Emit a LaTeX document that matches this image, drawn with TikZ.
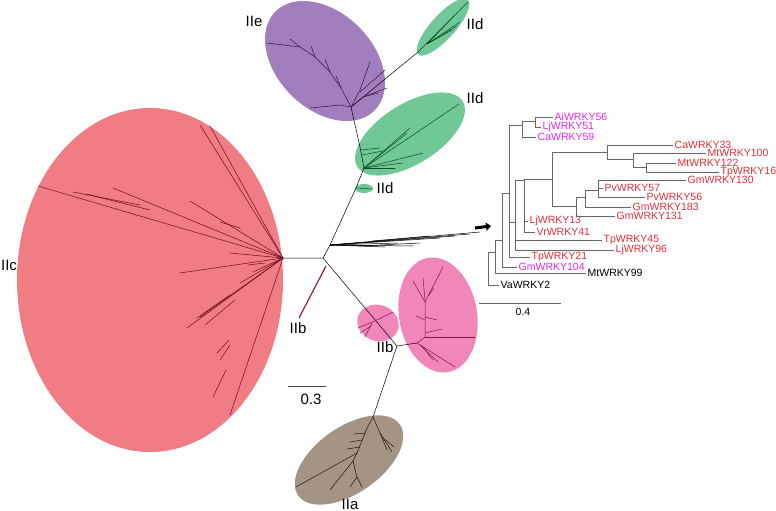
\documentclass[tikz,border=0pt]{standalone}
\usepackage{fontspec}
\setmainfont{Liberation Sans}
\usetikzlibrary{arrows.meta}
\definecolor{IIaFill}{RGB}{163,148,132}
\definecolor{IIbFill}{RGB}{241,134,185}
\definecolor{IIcFill}{RGB}{240,124,132}
\definecolor{IIdFill}{RGB}{111,200,150}
\definecolor{IIeFill}{RGB}{161,126,190}
\definecolor{wred}{RGB}{228,46,54}
\definecolor{wmag}{RGB}{228,40,228}
\definecolor{IIaLine}{RGB}{30,20,20}
\definecolor{IIbLine}{RGB}{140,14,78}
\definecolor{IIcLine}{RGB}{110,10,30}
\definecolor{IIdLine}{RGB}{11,74,40}
\definecolor{IIeLine}{RGB}{59,16,56}

\begin{document}
\begin{tikzpicture}[x=1pt,y=-1pt,
    leaf/.style={anchor=west,inner sep=1.5pt,font=\fontsize{10.5}{12}\selectfont},
    clade/.style={inner sep=0pt,font=\fontsize{15}{18}\selectfont},
    br/.style={line width=0.6pt,draw=black!60},
    twig/.style={line width=0.5pt,line cap=round}]
\useasboundingbox (0,0) rectangle (776,511);

% clade ellipses
\fill[IIcFill] (150,280) ellipse [x radius=133, y radius=172];
\fill[IIeFill, rotate around={-45:(325,61)}] (325,61) ellipse [x radius=70, y radius=48];
\fill[IIdFill, rotate around={32:(410,134)}] (410,134) ellipse [x radius=62, y radius=30];
\fill[IIdFill, rotate around={48:(443,27)}] (443,27) ellipse [x radius=37, y radius=12];
\fill[IIdFill] (364,188.5) ellipse [x radius=9, y radius=4.5];
\fill[IIbFill, rotate around={-20:(378,323)}] (378,323) ellipse [x radius=21, y radius=18];
\fill[IIbFill, rotate around={10:(438,315)}] (438,315) ellipse [x radius=39, y radius=58];
\fill[IIaFill, rotate around={35:(349,460)}] (349,460) ellipse [x radius=62, y radius=33];

% unrooted tree
\coordinate (Hc) at (283,258);
\coordinate (R) at (323,258);
\coordinate (F) at (330,245);
\coordinate (Gs) at (356,188);
\coordinate (Gd) at (364,168);
\coordinate (He) at (351,107);
\coordinate (Gt) at (418,52);
\coordinate (Hb) at (397,346);
\coordinate (Hbb) at (417,343);
\coordinate (Ha) at (373,417);

\draw[twig,black] (Hc) -- (R) -- (F) -- (Gs) -- (Gd) -- (360,147) -- (He) -- (Gt);
\draw[twig,black] (R) -- (Hb) -- (Hbb);
\draw[twig,black] (Hb) -- (Ha);
\draw[IIbLine,line width=1.1pt] (326,266) -- (299,318);
\draw[twig,IIdLine] (Gs) -- (372,189);
\foreach \p in {(480,232),(470,234),(455,236),(440,238),(413,246),(398,243),(385,247),(372,246)}
    \draw[twig,black] (F) -- \p;
\draw[twig,black] (372,241) -- (430,236);
\draw[twig,black] (360,246) -- (420,243);

% IIc
\foreach \p in {(38,186),(113,188),(200,125),(210,126),(190,201),(180,273),(230,253),
        (253,272),(187,328),(230,415),(240,283),(200,317)}
    \draw[twig,IIcLine] (Hc) -- \p;
\draw[twig,IIcLine] (73,192) -- (140,205);
\draw[twig,IIcLine] (86,194) -- (150,210);
\draw[twig,IIcLine] (220,222) -- (240,228);
\draw[twig,IIcLine] (248,265) -- (265,263);
\draw[twig,IIcLine] (213,397) -- (226,370);
\draw[twig,IIcLine] (217,353) -- (229,340);
\draw[twig,IIcLine] (220,360) -- (230,345);
\draw[twig,IIcLine] (205,325) -- (235,300);
\draw[twig,IIcLine] (197,318) -- (230,295);

% IIe
\draw[twig,IIeLine] (He) -- (341,88) -- (330,72) -- (315,57) -- (300,47) -- (267,43);
\draw[twig,IIeLine] (300,47) -- (290,39);
\draw[twig,IIeLine] (315,57) -- (311,46);
\draw[twig,IIeLine] (330,72) -- (325,59);
\draw[twig,IIeLine] (341,88) -- (336,76);
\draw[twig,IIeLine] (He) -- (340,105) -- (310,108);
\draw[twig,IIeLine] (He) -- (363,97) -- (387,88);
\draw[twig,IIeLine] (He) -- (360,90) -- (370,62);
\draw[twig,IIeLine] (360,92) -- (385,70);
\draw[twig,IIeLine] (363,97) -- (378,93);

% IId
\draw[twig,IIdLine] (Gt) -- (468,2);
\foreach \p in {(455,15),(460,22),(452,30),(457,26)}
    \draw[twig,IIdLine] (427,44) -- \p;
\foreach \p in {(459,104),(410,128),(407,133),(423,153),(403,163),(395,168)}
    \draw[twig,IIdLine] (Gd) -- \p;
\draw[twig,IIdLine] (361,150) -- (380,148);
\draw[twig,IIdLine] (362,155) -- (383,151);

% IIb
\draw[twig,IIbLine] (358,328) -- (377,320) -- (393,312);
\draw[twig,IIbLine] (365,337) -- (372,323);
\draw[twig,IIbLine] (360,333) -- (371,326);
\draw[twig,IIbLine] (Hbb) -- (425,337) -- (425,302) -- (443,267);
\draw[twig,IIbLine] (425,302) -- (413,281);
\draw[twig,IIbLine] (425,300) -- (423,278);
\draw[twig,IIbLine] (428,296) -- (434,288);
\draw[twig,IIbLine] (425,317) -- (437,320);
\draw[twig,IIbLine] (425,320) -- (416,316);
\draw[twig,IIbLine] (425,337) -- (475,337);
\draw[twig,IIbLine] (425,333) -- (442,329);
\draw[twig,IIbLine] (Hbb) -- (455,367);
\draw[twig,IIbLine] (420,345) -- (438,362);
\draw[twig,IIbLine] (422,346) -- (433,360);

% IIa
\draw[twig,IIaLine] (Ha) -- (367,428) -- (357,453) -- (296,487);
\draw[twig,IIaLine] (366,433) -- (354,434);
\draw[twig,IIaLine] (362,440) -- (350,442);
\draw[twig,IIaLine] (360,447) -- (347,449);
\draw[twig,IIaLine] (357,453) -- (353,461) -- (330,490);
\draw[twig,IIaLine] (353,461) -- (357,477) -- (350,487);
\draw[twig,IIaLine] (357,477) -- (362,487);
\draw[twig,IIaLine] (Ha) -- (380,433) -- (392,452);
\draw[twig,IIaLine] (380,433) -- (387,450);
\draw[twig,IIaLine] (383,438) -- (394,447);

% clade labels
\node[clade] (Lc) at (9,265) {IIc};
\node[clade] (Le) at (254,21) {IIe};
\node[clade] (Ld1) at (475,24) {IId};
\node[clade] (Ld2) at (475,98) {IId};
\node[clade] (Ld3) at (385,188) {IId};
\node[clade] (Lb1) at (298,328) {IIb};
\node[clade] (Lb2) at (385,347) {IIb};
\node[clade] (La) at (350,504) {IIa};

% scale bar
\draw[twig,black!70] (288,386) -- (326,386);
\node[clade] (S3) at (311,399) {0.3};

% pointer
\coordinate (P) at (475,228);
\coordinate (Q) at (491,226);
\draw[line width=3pt,-{Triangle[length=5pt,width=8pt]}] (P) -- (Q);

% subtree
\coordinate (r0) at (488,268);
\coordinate (n1) at (495,252);
\coordinate (n2) at (502,240);
\coordinate (n3) at (509,193);
\coordinate (m1) at (522,125);
\coordinate (m2) at (535,121);
\coordinate (n4) at (515,222);
\coordinate (n5) at (524,180);
\coordinate (n6) at (552,179);
\coordinate (n7) at (607,152);
\coordinate (n9) at (633,159);
\coordinate (n10) at (646,167);
\coordinate (n8) at (576,206);
\coordinate (n11) at (585,197);
\coordinate (n12) at (598,190);

\node[leaf,wmag] (Ai56) at (553,117) {AiWRKY56};
\node[leaf,wmag] (Lj51) at (541,127) {LjWRKY51};
\node[leaf,wmag] (Ca59) at (536,137) {CaWRKY59};
\node[leaf,wred] (Ca33) at (673,145) {CaWRKY33};
\node[leaf,wred] (Mt100) at (706,153) {MtWRKY100};
\node[leaf,wred] (Mt122) at (676,163) {MtWRKY122};
\node[leaf,wred] (Tp16) at (719,172) {TpWRKY16};
\node[leaf,wred] (Gm130) at (686,180) {GmWRKY130};
\node[leaf,wred] (Pv57) at (603,188) {PvWRKY57};
\node[leaf,wred] (Pv56) at (645,197) {PvWRKY56};
\node[leaf,wred] (Gm183) at (631,207) {GmWRKY183};
\node[leaf,wred] (Gm131) at (615,216) {GmWRKY131};
\node[leaf,wred] (Lj13) at (528,221) {LjWRKY13};
\node[leaf,wred] (Vr41) at (535,232) {VrWRKY41};
\node[leaf,wred] (Tp45) at (602,240) {TpWRKY45};
\node[leaf,wred] (Lj96) at (614,250) {LjWRKY96};
\node[leaf,wred] (Tp21) at (530,257) {TpWRKY21};
\node[leaf,wmag] (Gm104) at (517,267) {GmWRKY104};
\node[leaf] (Mt99) at (586,273) {MtWRKY99};
\node[leaf] (Va2) at (499,285) {VaWRKY2};

\draw[br] (r0) |- (Va2.west);
\draw[br] (r0) |- (n1);
\draw[br] (n1) |- (Mt99.west);
\draw[br] (n1) |- (n2);
\draw[br] (n2) |- (Gm104.west);
\draw[br] (n2) |- (n3);
\draw[br] (n3) |- (m1);
\draw[br] (n3) |- (n4);
\draw[br] (n3) |- (Tp21.west);
\draw[br] (m1) |- (m2);
\draw[br] (m1) |- (Ca59.west);
\draw[br] (m2) |- (Ai56.west);
\draw[br] (m2) |- (Lj51.west);
\draw[br] (n4) |- (n5);
\draw[br] (n4) |- (Tp45.west);
\draw[br] (n4) |- (Lj96.west);
\draw[br] (n5) |- (n6);
\draw[br] (n5) |- (Lj13.west);
\draw[br] (n5) |- (Vr41.west);
\draw[br] (n6) |- (n7);
\draw[br] (n6) |- (n8);
\draw[br] (n7) |- (Ca33.west);
\draw[br] (n7) |- (n9);
\draw[br] (n9) |- (Mt100.west);
\draw[br] (n9) |- (n10);
\draw[br] (n10) |- (Mt122.west);
\draw[br] (n10) |- (Tp16.west);
\draw[br] (n8) |- (n11);
\draw[br] (n8) |- (Gm131.west);
\draw[br] (n11) |- (n12);
\draw[br] (n11) |- (Gm183.west);
\draw[br] (n12) |- (Gm130.west);
\draw[br] (n12) |- (Pv57.west);
\draw[br] (n12) |- (Pv56.west);

\draw[br] (479,303) -- (561,303);
\node[leaf,anchor=center] (S4) at (523,312) {0.4};
\end{tikzpicture}
\end{document}
